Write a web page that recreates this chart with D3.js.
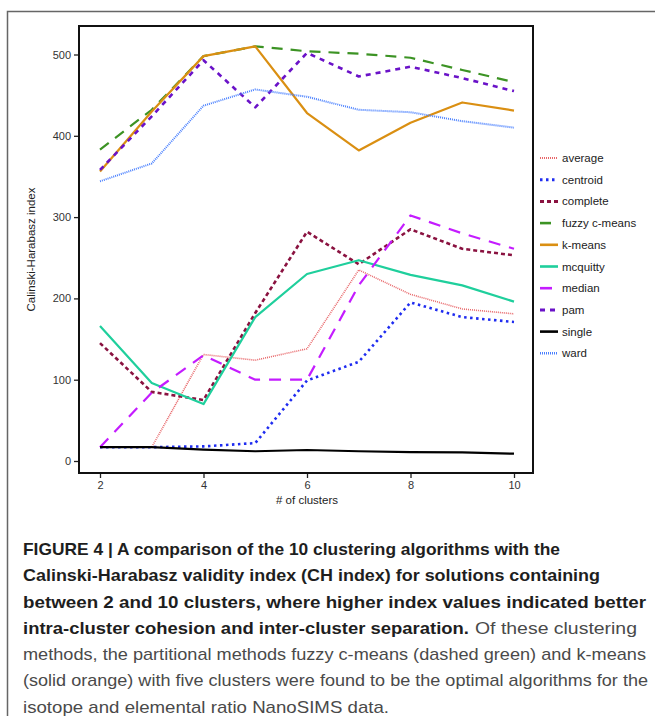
<!DOCTYPE html>
<html>
<head>
<meta charset="utf-8">
<script src="https://cdn.jsdelivr.net/npm/d3@7.9.0/dist/d3.min.js"></script>
<style>
  body { margin: 0; background: #fff; }
  svg { display: block; font-family: "Liberation Sans", Arial, sans-serif; }
</style>
</head>
<body>
<div id="chart"></div>
<script>
const width = 655;
const height = 716;

// clusters on x axis
const clusters = [2, 3, 4, 5, 6, 7, 8, 9, 10];
const xTicks = [2, 4, 6, 8, 10];
const yTicks = [0, 100, 200, 300, 400, 500];

// CH index per method
const average   = [17, 17, 131, 124, 138, 235, 205, 187, 181];
const centroid  = [17, 17, 18, 22, 99, 122, 195, 177, 171];
const complete  = [145, 85, 75, 182, 282, 242, 285, 261, 253];
const fuzzy     = [383, 432, 498, 510, 504, 501, 496, 481, 466];
const kmeans    = [356, 430, 498, 510, 428, 382, 416, 441, 431];
const mcquitty  = [166, 96, 70, 177, 230, 247, 229, 216, 196];
const median    = [17, 84, 130, 100, 100, 216, 302, 280, 261];
const pam       = [358, 424, 493, 435, 502, 473, 485, 471, 455];
const single    = [17, 17, 14, 12, 13.5, 12, 11, 10.5, 9];
const ward      = [344, 366, 437, 457, 448, 432, 429, 418, 410];

const methods = [
  { name: "average", values: average, color: "#e8676a", w: 1.6, dash: "1,1" },
  { name: "centroid", values: centroid, color: "#1f2cf0", w: 2.6, dash: "2.5,3.5" },
  { name: "complete", values: complete, color: "#8a1240", w: 2.6, dash: "4,3" },
  { name: "fuzzy c-means", values: fuzzy, color: "#3c9324", w: 2.2, dash: "11,8" },
  { name: "k-means", values: kmeans, color: "#da8f12", w: 2.2, dash: null },
  { name: "mcquitty", values: mcquitty, color: "#1fcf9c", w: 2.2, dash: null },
  { name: "median", values: median, color: "#c41cff", w: 2.2, dash: "12,9" },
  { name: "pam", values: pam, color: "#6a12c8", w: 2.6, dash: "5,5" },
  { name: "single", values: single, color: "#000000", w: 2.2, dash: null },
  { name: "ward", values: ward, color: "#4a80ff", w: 2, dash: "1,1" }
];

const captionBold = [
  "FIGURE 4 | A comparison of the 10 clustering algorithms with the",
  "Calinski-Harabasz validity index (CH index) for solutions containing",
  "between 2 and 10 clusters, where higher index values indicated better",
  "intra-cluster cohesion and inter-cluster separation."
];
const captionNormal = [
  "Of these clustering",
  "methods, the partitional methods fuzzy c-means (dashed green) and k-means",
  "(solid orange) with five clusters were found to be the optimal algorithms for the",
  "isotope and elemental ratio NanoSIMS data."
];

const box = { left: 79, right: 533, top: 26, bottom: 473 };

const svg = d3.select("#chart").append("svg")
  .attr("width", width)
  .attr("height", height);

// outer figure frame (top + left)
svg.append("path")
  .attr("d", `M7.5,${height} V11.5 H${width}`)
  .attr("fill", "none")
  .attr("stroke", "#666")
  .attr("stroke-width", 1.5);

const x = d3.scaleLinear().domain([2, 10]).range([100, 514]);
const y = d3.scaleLinear().domain([0, 500]).range([461, 54.5]);

// axes
const yAxis = svg.append("g")
  .attr("transform", `translate(${box.left},0)`)
  .call(d3.axisLeft(y).tickValues(yTicks).tickSize(5).tickPadding(3));
const xAxis = svg.append("g")
  .attr("transform", `translate(0,${box.bottom})`)
  .call(d3.axisBottom(x).tickValues(xTicks).tickSize(5).tickPadding(3));

[xAxis, yAxis].forEach(g => {
  g.select(".domain").remove();
  g.selectAll(".tick line").attr("stroke", "#222").attr("stroke-width", 1.3);
  g.selectAll(".tick text")
    .attr("fill", "#333")
    .style("font-size", "11px")
    .style("font-family", "Liberation Sans, Arial, sans-serif");
});

// lines
const line = d3.line()
  .x((d, i) => x(clusters[i]))
  .y(d => y(d));

svg.append("g")
  .selectAll("path")
  .data(methods)
  .join("path")
  .attr("d", d => line(d.values))
  .attr("fill", "none")
  .attr("stroke", d => d.color)
  .attr("stroke-width", d => d.w)
  .attr("stroke-dasharray", d => d.dash)
  .attr("stroke-linejoin", "round");

// plot box
svg.append("rect")
  .attr("x", box.left)
  .attr("y", box.top)
  .attr("width", box.right - box.left)
  .attr("height", box.bottom - box.top)
  .attr("fill", "none")
  .attr("stroke", "#111")
  .attr("stroke-width", 2);

// axis titles
svg.append("text")
  .attr("x", (x(2) + x(10)) / 2)
  .attr("y", 504)
  .attr("text-anchor", "middle")
  .attr("fill", "#222")
  .style("font-size", "11.5px")
  .text("# of clusters");

svg.append("text")
  .attr("transform", `translate(35,${(box.top + box.bottom) / 2}) rotate(-90)`)
  .attr("text-anchor", "middle")
  .attr("fill", "#222")
  .style("font-size", "11.5px")
  .text("Calinski-Harabasz index");

// legend
const legend = svg.append("g")
  .selectAll("g")
  .data(methods)
  .join("g")
  .attr("transform", (d, i) => `translate(540,${158 + i * 21.7})`);

legend.append("line")
  .attr("x1", 0).attr("x2", 18)
  .attr("stroke", d => d.color)
  .attr("stroke-width", d => d.w + 0.4)
  .attr("stroke-dasharray", d => d.dash);

legend.append("text")
  .attr("x", 22)
  .attr("dy", "0.35em")
  .attr("fill", "#222")
  .style("font-size", "11.5px")
  .text(d => d.name);

// caption
const capX = 23;
const lh = 26.25;
const base = 555;
const boldWidths = [537, 577, 623, 446];
captionBold.forEach((t, i) => {
  svg.append("text")
    .attr("x", capX)
    .attr("y", base + i * lh)
    .attr("fill", "#1e1e1e")
    .attr("font-weight", "bold")
    .attr("textLength", boldWidths[i])
    .attr("lengthAdjust", "spacingAndGlyphs")
    .style("font-size", "17px")
    .text(t);
});
const normalStarts = [capX + 452, capX, capX, capX];
const normalWidths = [162, 623, 625, 366];
captionNormal.forEach((t, i) => {
  svg.append("text")
    .attr("x", normalStarts[i])
    .attr("y", base + (i + 3) * lh)
    .attr("fill", "#4a4a4a")
    .attr("textLength", normalWidths[i])
    .attr("lengthAdjust", "spacingAndGlyphs")
    .style("font-size", "17px")
    .text(t);
});
</script>
</body>
</html>
